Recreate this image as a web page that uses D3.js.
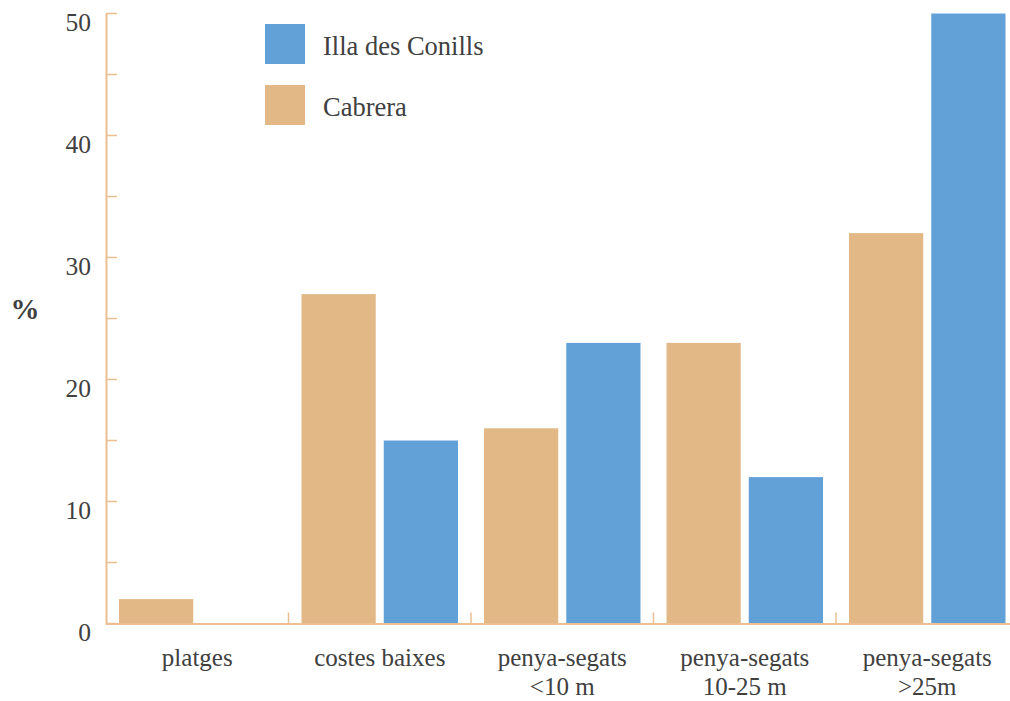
<!DOCTYPE html>
<html>
<head>
<meta charset="utf-8">
<script src="https://cdn.jsdelivr.net/npm/d3@7"></script>
<style>
  html, body { margin: 0; padding: 0; background: #fff; }
  svg { display: block; }
  text { font-family: "Liberation Serif", "Times New Roman", serif; fill: #404040; }
</style>
</head>
<body>
<svg id="chart" width="1010" height="701"></svg>
<script>
const categories = [["platges"], ["costes baixes"], ["penya-segats", "<10 m"], ["penya-segats", "10-25 m"], ["penya-segats", ">25m"]];
const seriesNames = ["Cabrera", "Illa des Conills"];
const cabrera = [2, 27, 16, 23, 32];
const illa = [0, 15, 23, 12, 50];
const yTicks = [0, 5, 10, 15, 20, 25, 30, 35, 40, 45, 50];
const yLabels = [0, 10, 20, 30, 40, 50];
const legendOrder = ["Illa des Conills", "Cabrera"];

const colors = { "Cabrera": "#e2b886", "Illa des Conills": "#62a1d7" };
const axisColor = "#ebbf92";

const svg = d3.select("#chart");
const catKeys = categories.map(c => c.join(" "));
const x = d3.scaleBand().domain(catKeys).range([106, 1018.5]).padding(0);
const sub = d3.scaleBand().domain(seriesNames).range([13, x.bandwidth() - 13]).paddingInner(8 / 82).paddingOuter(0);
const y = d3.scaleLinear().domain([0, 50]).range([623.5, 13.5]);

const data = [];
catKeys.forEach((k, i) => {
  data.push({ cat: k, s: "Cabrera", v: cabrera[i] });
  data.push({ cat: k, s: "Illa des Conills", v: illa[i] });
});

// bars
svg.append("g").selectAll("rect").data(data).join("rect")
  .attr("x", d => x(d.cat) + sub(d.s))
  .attr("width", sub.bandwidth())
  .attr("y", d => y(d.v))
  .attr("height", d => y(0) - y(d.v))
  .attr("fill", d => colors[d.s]);

// y axis line + ticks
const g = svg.append("g");
g.append("line").attr("x1", 106.5).attr("x2", 106.5).attr("y1", y(50)).attr("y2", y(0) + 1)
  .attr("stroke", axisColor).attr("stroke-width", 2);
g.selectAll("line.yt").data(yTicks).join("line").attr("class", "yt")
  .attr("x1", 106).attr("x2", 117).attr("y1", d => y(d)).attr("y2", d => y(d))
  .attr("stroke", axisColor).attr("stroke-width", 1.5);
g.selectAll("text.yl").data(yLabels).join("text").attr("class", "yl")
  .attr("x", 91).attr("y", d => y(d) + 17.5)
  .attr("text-anchor", "end").attr("font-size", 25.5)
  .text(d => d);

// x axis line + category ticks
g.append("line").attr("x1", 106).attr("x2", 1010).attr("y1", y(0) + 0.5).attr("y2", y(0) + 0.5)
  .attr("stroke", axisColor).attr("stroke-width", 2);
g.selectAll("line.xt").data(catKeys.slice(1)).join("line").attr("class", "xt")
  .attr("x1", d => x(d)).attr("x2", d => x(d)).attr("y1", y(0)).attr("y2", y(0) - 11)
  .attr("stroke", axisColor).attr("stroke-width", 1.5);

// category labels
const lbl = g.selectAll("text.xl").data(categories).join("text").attr("class", "xl")
  .attr("text-anchor", "middle").attr("font-size", 25)
  .attr("transform", d => `translate(${x(d.join(" ")) + x.bandwidth() / 2},666)`);
lbl.selectAll("tspan").data(d => d).join("tspan")
  .attr("x", 0).attr("y", (d, i) => i * 29).text(d => d);

// y title
svg.append("text").attr("x", 25).attr("y", 319).attr("text-anchor", "middle")
  .attr("font-size", 29).attr("font-weight", "bold").text("%");

// legend
const lg = svg.append("g").selectAll("g").data(legendOrder).join("g")
  .attr("transform", (d, i) => `translate(265,${24 + i * 61})`);
lg.append("rect").attr("width", 40).attr("height", 40).attr("fill", d => colors[d]);
lg.append("text").attr("x", 58).attr("y", 31).attr("font-size", 26.5).text(d => d);
</script>
</body>
</html>
